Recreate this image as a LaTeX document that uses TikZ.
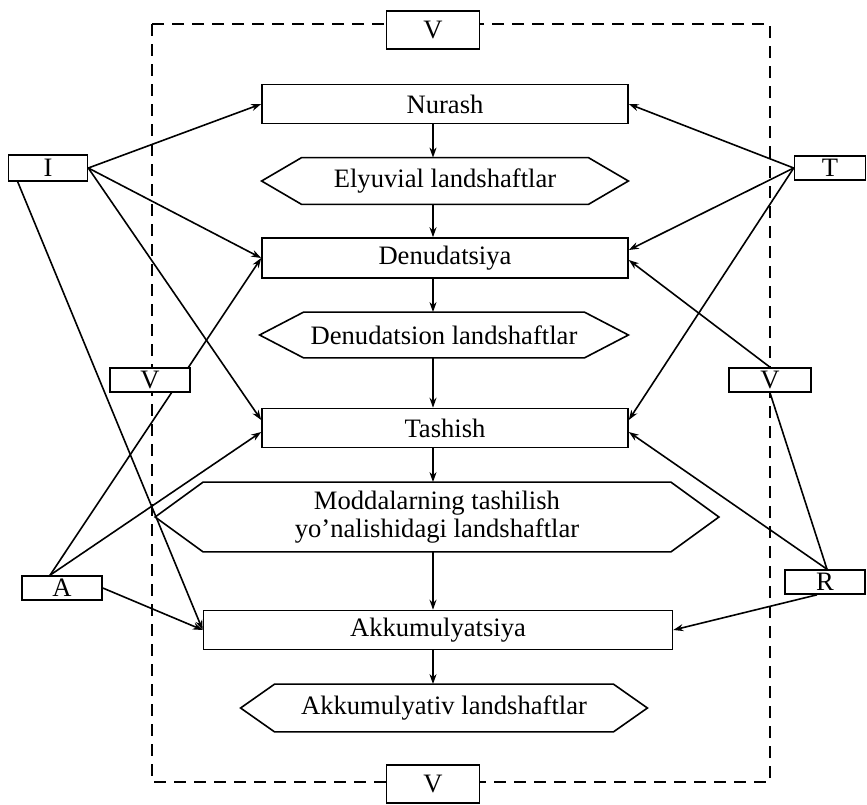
\documentclass[tikz,border=0pt]{standalone}
\usepackage{fontspec}
\setmainfont{Liberation Serif}
\usetikzlibrary{arrows.meta,backgrounds}

\tikzset{
  box/.style={draw, fill=white, line width=0.8pt, minimum width=183pt, minimum height=19.5pt, inner sep=1pt},
  hexa/.style={minimum width=183pt, minimum height=23pt, inner sep=1pt},
  tag/.style={draw, fill=white, line width=0.8pt, minimum width=40pt, minimum height=12pt, inner sep=0pt},
  link/.style={line width=0.8pt, -{Stealth[length=5pt,width=3.5pt]}},
  plain/.style={line width=0.8pt},
}

\begin{document}
\begin{tikzpicture}[x=0.5pt, y=-0.5pt, font=\fontsize{13.3}{14}\selectfont]
	\useasboundingbox (0,0) rectangle (867,804);

	% central column
	\node[box] (nur) at (445,104) {Nurash};
	\node[hexa] (ely) at (445,181) {Elyuvial landshaftlar};
	\node[box, minimum height=20pt] (den) at (445,258) {Denudatsiya};
	\node[hexa, minimum width=184pt, minimum height=22.5pt] (dls) at (444,335) {Denudatsion landshaftlar};
	\node[box] (tas) at (445,428) {Tashish};
	\node[hexa, minimum width=281.5pt, minimum height=34.5pt, align=center] (mod) at (437,517) {Moddalarning tashilish\\yo'nalishidagi landshaftlar};
	\node[box, minimum width=234.5pt] (akk) at (438,630) {Akkumulyatsiya};
	\node[hexa, minimum width=203pt, minimum height=23.5pt] (akl) at (444,708) {Akkumulyativ landshaftlar};

	% hexagon outlines
	\foreach \n/\d in {ely/20pt, dls/22pt, mod/24pt, akl/17pt}
		\draw[plain] ([xshift=\d]\n.north west) -- ([xshift=-\d]\n.north east) -- (\n.east)
			-- ([xshift=-\d]\n.south east) -- ([xshift=\d]\n.south west) -- (\n.west) -- cycle;

	% factors
	\node[tag, minimum width=39.5pt, minimum height=13pt] (i) at (48,168) {I};
	\node[tag, minimum width=35.5pt] (t) at (830,168) {T};
	\node[tag] (vl) at (150,380) {V};
	\node[tag, minimum width=41pt] (vr) at (770,380) {V};
	\node[tag] (a) at (62,588) {A};
	\node[tag] (r) at (825,582) {R};
	\node[tag, minimum width=46.5pt, minimum height=19pt] (vt) at (433,30) {V};
	\node[tag, minimum width=46.5pt, minimum height=19pt] (vb) at (433,784) {V};

	% downward flow
	\coordinate (ax) at (433,0);
	\draw[link] (nur.south -| ax) -- (ely.north -| ax);
	\draw[link] (ely.south -| ax) -- (den.north -| ax);
	\draw[link] (den.south -| ax) -- (dls.north -| ax);
	\draw[link] (dls.south -| ax) -- (tas.north -| ax);
	\draw[link] (tas.south -| ax) -- (mod.north -| ax);
	\draw[link] (mod.south -| ax) -- (akk.north -| ax);
	\draw[link] (akk.south -| ax) -- (akl.north -| ax);

	\begin{pgfonlayer}{background}
		% dashed frame
		\draw[plain, dash pattern=on 6pt off 4pt] (152,24) rectangle (770,782);

		% left side
		\draw[link] (i.east) -- (nur.west);
		\draw[link] (i.east) -- (den.west);
		\draw[link] (i.east) -- ([yshift=4pt]tas.west);
		\draw[link] ([xshift=5pt]i.south west) -- (akk.west);
		\draw[link] ([xshift=-6pt]a.north) -- (den.west);
		\draw[link] ([xshift=-6pt]a.north) -- ([yshift=-2pt]tas.west);
		\draw[link] (a.east) -- (akk.west);

		% right side
		\draw[link] (t.west) -- (nur.east);
		\draw[link] (t.west) -- ([yshift=4pt]den.east);
		\draw[link] (t.west) -- ([yshift=4pt]tas.east);
		\draw[link] (vr.north) -- ([yshift=-1pt]den.east);
		\draw[plain] ([xshift=1pt]r.north) -- (vr.south);
		\draw[link] ([xshift=1pt]r.north) -- ([yshift=-2pt]tas.east);
		\draw[link] ([xshift=-4pt]r.south) -- (akk.east);
	\end{pgfonlayer}

\end{tikzpicture}
\end{document}
